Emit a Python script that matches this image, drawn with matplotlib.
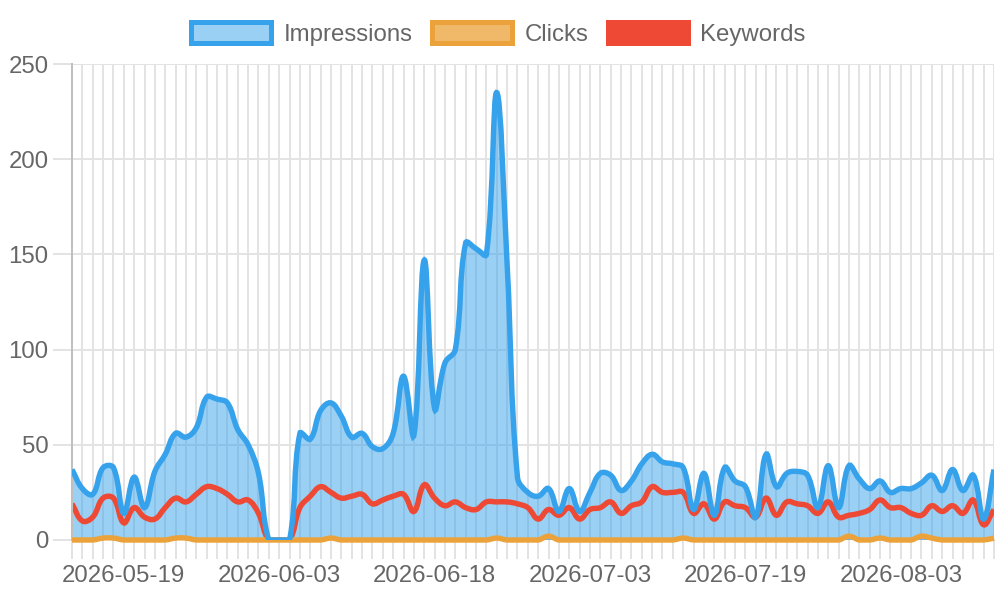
import numpy as np
import pandas as pd
import matplotlib
matplotlib.use('Agg')
from matplotlib import pyplot as plt
from matplotlib.path import Path
from matplotlib.patches import PathPatch, Patch

# dates on the x axis (one day is missing in July)
dates = pd.date_range('2026-05-14', '2026-08-12')
dates = dates[dates != pd.Timestamp('2026-07-10')]
date_labels = [d.strftime('%Y-%m-%d') for d in dates]

impressions = [37, 27, 24, 38, 38, 14, 33, 17, 36, 45,
               56, 54, 59, 75, 74, 72, 58, 50, 35, 0,
               0, 0, 56, 53, 68, 72, 65, 54, 56, 49,
               48, 56, 86, 55, 147, 69, 93, 100, 156, 153,
               150, 235, 145, 33, 25, 23, 27, 15, 27, 15,
               25, 35, 34, 26, 31, 40, 45, 41, 40, 38,
               16, 35, 13, 38, 31, 28, 12, 45, 28, 35,
               36, 34, 17, 39, 17, 39, 32, 27, 31, 25,
               27, 27, 30, 34, 26, 37, 26, 34, 11, 37]

clicks = [0, 0, 0, 1, 1, 0, 0, 0, 0, 0,
          1, 1, 0, 0, 0, 0, 0, 0, 0, 0,
          0, 0, 0, 0, 0, 1, 0, 0, 0, 0,
          0, 0, 0, 0, 0, 0, 0, 0, 0, 0,
          0, 1, 0, 0, 0, 0, 2, 0, 0, 0,
          0, 0, 0, 0, 0, 0, 0, 0, 0, 1,
          0, 0, 0, 0, 0, 0, 0, 0, 0, 0,
          0, 0, 0, 0, 0, 2, 0, 0, 1, 0,
          0, 0, 2, 1, 0, 0, 0, 0, 0, 1]

keywords = [19, 10, 12, 22, 22, 9, 17, 12, 11, 17,
            22, 20, 24, 28, 27, 24, 20, 21, 14, 0,
            0, 0, 17, 23, 28, 25, 22, 23, 24, 19,
            21, 23, 24, 15, 29, 22, 18, 20, 17, 16,
            20, 20, 20, 19, 17, 11, 16, 13, 17, 11,
            16, 17, 20, 14, 18, 20, 28, 25, 25, 25,
            14, 19, 11, 20, 18, 17, 12, 22, 13, 20,
            19, 18, 14, 20, 12, 13, 14, 16, 21, 17,
            17, 14, 13, 18, 15, 18, 14, 21, 8, 16]

BLUE = '#36a2eb'
ORANGE = '#eca23a'
RED = '#ee4934'
TEXT = '#666666'
GRID = '#e3e3e3'
ZERO = '#bfbfbf'
FS = 17.3
LW = 3.9

plt.rcParams['font.family'] = ['Liberation Sans', 'DejaVu Sans']

fig = plt.figure(figsize=(10, 6), dpi=100)
ax = fig.add_axes([0.072, 0.1, 0.922, 0.79333])
ax.set_xlim(0, len(dates) - 1)
ax.set_ylim(0, 250)


def spline_path(ax, values, tension=0.4):
    # same bezier control points as a chart.js line with tension
    x = np.arange(len(values))
    pts = ax.transData.transform(np.column_stack([x, values]).astype(float))
    n = len(pts)
    cin = pts.copy()
    cout = pts.copy()
    for i in range(n):
        prev = pts[max(i - 1, 0)]
        cur = pts[i]
        nxt = pts[min(i + 1, n - 1)]
        d01 = np.hypot(*(cur - prev))
        d12 = np.hypot(*(nxt - cur))
        tot = d01 + d12
        s01 = d01 / tot if tot else 0
        s12 = d12 / tot if tot else 0
        cin[i] = cur - tension * s01 * (nxt - prev)
        cout[i] = cur + tension * s12 * (nxt - prev)
    bb = ax.bbox
    for c in (cin, cout):
        c[:, 0] = np.clip(c[:, 0], bb.x0, bb.x1)
        c[:, 1] = np.clip(c[:, 1], bb.y0, bb.y1)
    verts = [pts[0]]
    codes = [Path.MOVETO]
    for i in range(n - 1):
        verts += [cout[i], cin[i + 1], pts[i + 1]]
        codes += [Path.CURVE4] * 3
    verts = ax.transData.inverted().transform(np.array(verts))
    return verts, codes


# grid
ax.set_xticks(range(len(dates)))
ax.set_xticklabels([lab if i % 15 == 5 else '' for i, lab in enumerate(date_labels)])
ax.set_yticks(range(0, 251, 50))
ax.grid(True, color=GRID, linewidth=1.44, alpha=1, zorder=0)
for s in ['top', 'right', 'bottom']:
    ax.spines[s].set_visible(False)
ax.spines['left'].set_color(ZERO)
ax.spines['left'].set_linewidth(1.44)
ax.tick_params(axis='both', length=14, width=1.44, color=GRID,
               labelsize=FS, labelcolor=TEXT, pad=4)
ax.tick_params(axis='y', pad=3)
ax.xaxis.get_major_ticks()[0].tick1line.set_color(ZERO)
ax.yaxis.get_major_ticks()[0].tick1line.set_color(ZERO)
ax.yaxis.get_major_ticks()[0].gridline.set_color(ZERO)
ax.xaxis.get_major_ticks()[0].gridline.set_visible(False)
ax.set_axisbelow(True)

# impressions area
v, c = spline_path(ax, impressions)
fill_verts = np.vstack([v, [[len(dates) - 1, 0], [0, 0], [0, 0]]])
fill_codes = c + [Path.LINETO, Path.LINETO, Path.CLOSEPOLY]
ax.add_patch(PathPatch(Path(fill_verts, fill_codes), facecolor=BLUE, alpha=0.5,
                       edgecolor='none', zorder=1))

# lines (impressions drawn on top)
v, c = spline_path(ax, keywords)
ax.add_patch(PathPatch(Path(v, c), facecolor='none', edgecolor=RED, lw=LW, zorder=2))
v, c = spline_path(ax, clicks)
ax.add_patch(PathPatch(Path(v, c), facecolor='none', edgecolor=ORANGE, lw=LW, zorder=3,
                       clip_on=False))
v, c = spline_path(ax, impressions)
ax.add_patch(PathPatch(Path(v, c), facecolor='none', edgecolor=BLUE, lw=LW, zorder=4))

handles = [Patch(facecolor='#9bd0f5', edgecolor=BLUE, linewidth=3.6),
           Patch(facecolor='#f0b96a', edgecolor=ORANGE, linewidth=3.6),
           Patch(facecolor=RED, edgecolor=RED, linewidth=3.6)]
fig.legend(handles, ['Impressions', 'Clicks', 'Keywords'], loc='center',
           bbox_to_anchor=(0.4985, 0.944), ncol=3, frameon=False,
           handlelength=3.33, handleheight=1.0, handletextpad=0.5,
           columnspacing=0.83, fontsize=FS, labelcolor=TEXT,
           borderaxespad=0, borderpad=0)

plt.savefig('out.png', dpi=100)
